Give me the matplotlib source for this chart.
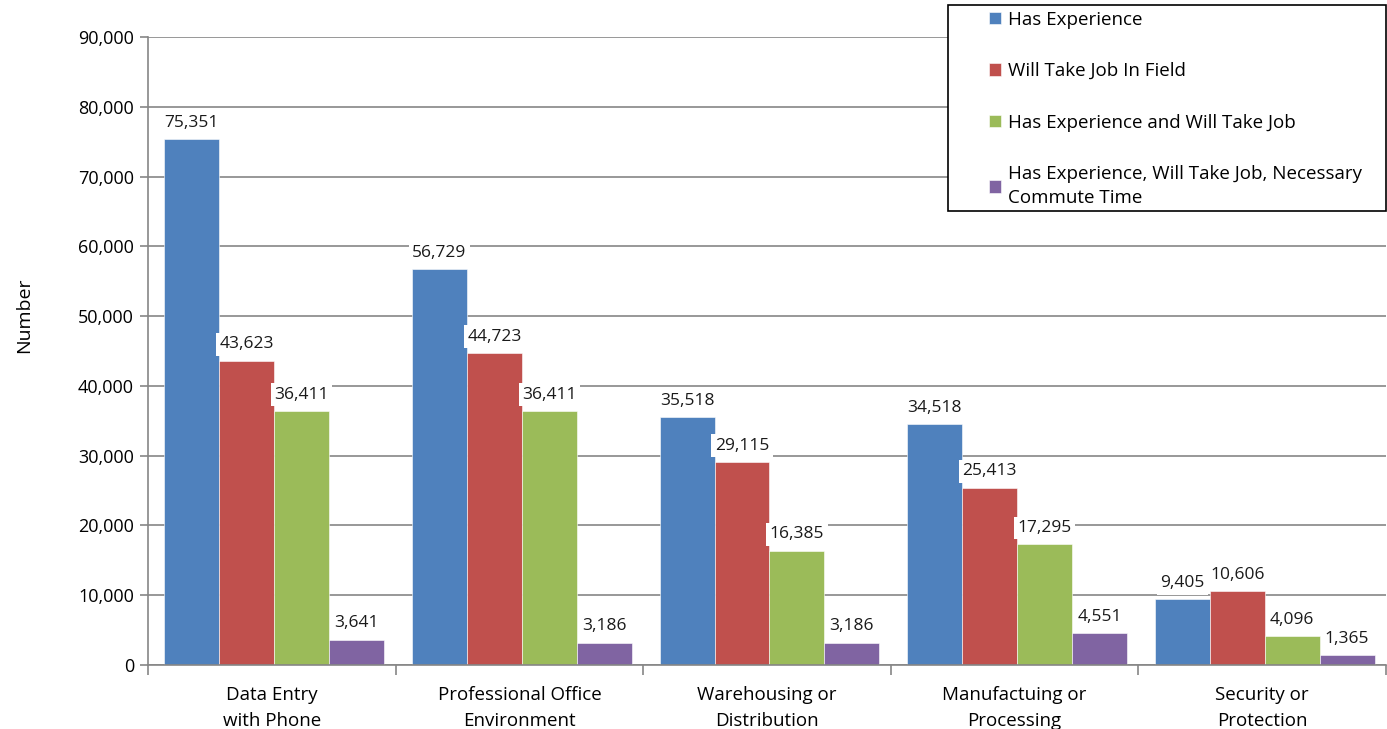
import numpy as np
import matplotlib as mpl
import matplotlib.pyplot as plt
from matplotlib.patches import Rectangle

mpl.rcParams['font.family'] = ['Open Sans', 'DejaVu Sans']

categories = ["Data Entry\nwith Phone", "Professional Office\nEnvironment",
              "Warehousing or\nDistribution", "Manufactuing or\nProcessing",
              "Security or\nProtection"]
series_names = ["Has Experience", "Will Take Job In Field",
                "Has Experience and Will Take Job",
                "Has Experience, Will Take Job, Necessary\nCommute Time"]
has_experience = [75351, 56729, 35518, 34518, 9405]
will_take_job = [43623, 44723, 29115, 25413, 10606]
exp_and_take = [36411, 36411, 16385, 17295, 4096]
exp_take_commute = [3641, 3186, 3186, 4551, 1365]
series_values = [has_experience, will_take_job, exp_and_take, exp_take_commute]
colors = ["#4F81BD", "#C0504D", "#9BBB59", "#8064A2"]

W, H = 1387, 729
fig = plt.figure(figsize=(W / 100, H / 100), dpi=100)
ax = fig.add_axes([148 / W, 1 - 665 / H, (1386 - 148) / W, (665 - 37) / H])

x = np.arange(len(categories))
width = 0.222
offsets = (np.arange(4) - 1.5) * width
for vals, off, col, name in zip(series_values, offsets, colors, series_names):
    bars = ax.bar(x + off + 0.01, vals, width, color=col, label=name,
                  edgecolor="white", linewidth=0.4, zorder=2)
    for b, v in zip(bars, vals):
        ax.annotate(f"{v:,}", (b.get_x() + b.get_width() / 2, v),
                    xytext=(0, 6), textcoords="offset points",
                    ha="center", va="bottom", fontsize=12.5, color="#1a1a1a",
                    bbox=dict(boxstyle="square,pad=0.2", fc="white", ec="none"),
                    zorder=3)

ax.set_xlim(-0.5, len(categories) - 0.5)
ax.set_ylim(0, 90000)
ax.set_yticks(np.arange(0, 90001, 10000))
ax.yaxis.set_major_formatter(mpl.ticker.FuncFormatter(lambda v, p: f"{int(v):,}"))
ax.yaxis.grid(True, color="#868686", linewidth=1.2, zorder=0)
ax.set_axisbelow(True)

ax.set_xticks(x)
ax.set_xticklabels(categories, fontsize=13.5, linespacing=1.55)
ax.set_xticks(np.arange(-0.5, len(categories)), minor=True)
ax.tick_params(axis="x", which="major", length=0, pad=15)
ax.tick_params(axis="x", which="minor", length=7, color="#868686", width=1.2)
ax.tick_params(axis="y", length=6, color="#868686", width=1.2, labelsize=13, pad=4)

for s in ["top", "right"]:
    ax.spines[s].set_visible(False)
for s in ["left", "bottom"]:
    ax.spines[s].set_color("#868686")
    ax.spines[s].set_linewidth(1.2)

ax.set_ylabel("Number", fontsize=14)
ax.yaxis.set_label_coords((33 - 148) / 1238, (665 - 315) / 628)

# legend box drawn as a fixed-size frame, entries placed inside it
fig.patches.append(Rectangle((948 / W, 1 - 211 / H), (1386 - 948) / W, (211 - 5) / H,
                             transform=fig.transFigure, fc="white", ec="black",
                             lw=1.2, zorder=5))
handles, labels = ax.get_legend_handles_labels()
leg = fig.legend(handles, labels, loc="upper left",
                 bbox_to_anchor=(985 / W, 1 - 7 / H),
                 fontsize=13.5, frameon=False, handlelength=0.65,
                 handleheight=0.65, handletextpad=0.35, labelspacing=1.78,
                 borderpad=0.2, borderaxespad=0)
leg.set_zorder(6)
for t in leg.get_texts():
    t.set_linespacing(1.45)

fig.savefig("out.png", dpi=100)
